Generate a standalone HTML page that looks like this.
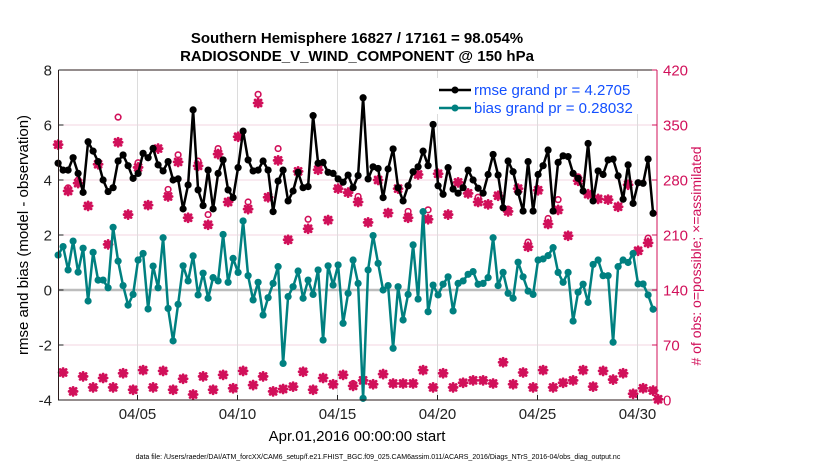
<!DOCTYPE html>
<html><head><meta charset="utf-8"><style>
body{margin:0;background:#fff;}
svg{display:block;font-family:"Liberation Sans",Arial,sans-serif;}
</style></head><body>
<svg id="chart" width="830" height="470" viewBox="0 0 830 470" xmlns="http://www.w3.org/2000/svg">
<rect width="830" height="470" fill="#fff"/>
<g id="grid"></g>
<g id="series"></g>
<g id="axes"></g>
<text x="357" y="43" text-anchor="middle" font-size="15" font-weight="bold">Southern Hemisphere 16827 / 17161 = 98.054%</text>
<text x="357" y="61" text-anchor="middle" font-size="15" font-weight="bold">RADIOSONDE_V_WIND_COMPONENT @ 150 hPa</text>
<text transform="translate(28,235) rotate(-90)" text-anchor="middle" font-size="15">rmse and bias (model - observation)</text>
<text transform="translate(701,256) rotate(-90)" text-anchor="middle" font-size="14" fill="#d1105a">&#35; of obs: o=possible; &#215;=assimilated</text>
<text x="357" y="441" text-anchor="middle" font-size="15">Apr.01,2016 00:00:00 start</text>
<text x="378" y="459" text-anchor="middle" font-size="7">data file: /Users/raeder/DAI/ATM_forcXX/CAM6_setup/f.e21.FHIST_BGC.f09_025.CAM6assim.011/ACARS_2016/Diags_NTrS_2016-04/obs_diag_output.nc</text>
<g>
<rect x="436" y="78" width="210" height="36" fill="#fff"/>
<line x1="439" y1="90" x2="471" y2="90" stroke="#000" stroke-width="2.5"/><circle cx="455" cy="90" r="3.5" fill="#000"/>
<text x="474" y="95" font-size="15" fill="#1450ff">rmse grand pr = 4.2705</text>
<line x1="439" y1="108" x2="471" y2="108" stroke="#008080" stroke-width="2.5"/><circle cx="455" cy="108" r="3.5" fill="#008080"/>
<text x="474" y="113" font-size="15" fill="#1450ff">bias grand pr = 0.28032</text>
</g>
</svg>
<script>
const rmse = [4.61,4.36,4.36,4.81,4.24,3.55,5.39,5.05,4.67,4.0,3.58,3.72,4.69,4.91,4.52,4.06,4.24,4.97,4.81,5.15,4.55,4.33,4.67,4.0,4.04,2.95,3.82,6.55,3.64,3.07,
4.36,2.95,4.24,4.73,3.64,3.36,4.45,5.78,4.73,4.33,4.36,4.69,4.36,2.85,3.96,4.36,3.24,3.6,4.28,3.72,3.76,6.34,4.61,4.64,4.28,4.24,4.04,3.92,
4.18,3.72,4.16,6.99,4.04,4.48,4.42,3.36,4.4,5.13,3.72,3.24,3.79,4.3,4.48,5.05,4.52,6.02,3.79,3.48,4.45,3.67,3.52,3.72,4.36,4.0,3.7,3.52,
4.2,4.93,4.18,2.99,4.69,4.3,3.55,2.87,4.67,2.87,4.2,4.52,5.09,2.87,4.64,4.88,4.85,4.24,4.06,3.6,5.33,3.24,4.33,4.2,4.73,4.76,
4.15,3.3,4.55,3.15,3.9,3.88,4.76,2.79];
const bias = [1.27,1.58,0.73,1.78,0.65,1.52,-0.40,1.37,0.36,0.36,0.08,2.28,1.05,0.16,-0.55,-0.16,1.09,1.33,-0.69,0.87,0.08,1.90,-0.67,-1.85,-0.52,0.88,0.33,1.24,-0.18,0.61,
-0.30,0.45,0.33,2.02,0.28,1.15,0.64,2.51,0.52,-0.36,0.28,-0.91,-0.28,0.24,0.85,-2.67,-0.24,0.12,0.69,-0.30,0.36,-0.16,0.73,-1.82,0.88,0.18,0.91,-1.21,
-0.12,1.09,0.24,-3.94,0.73,1.98,0.97,0,0.16,-2.12,0.12,-1.09,-0.16,1.64,-0.33,2.85,-0.79,0.18,-0.18,0.21,0.48,-0.76,0.24,0.33,0.57,0.67,0.21,0.24,
0.45,1.9,0.16,0.64,-0.12,-0.30,1.01,0.48,-0.04,-0.16,1.09,1.13,1.25,1.54,0.64,0.28,0.64,-1.13,-0.08,0.21,-0.45,0.93,1.09,0.52,0.52,-1.9,
0.85,1.09,1.0,1.33,0.22,0.22,-0.18,-0.7];
const obsAssim = [325,35,266,11,276,30,247,16,300,28,198,16,328,34,236,13,296,38,248,16,320,37,259,13,303,27,232,7,298,30,
223,13,313,32,252,15,335,37,243,19,378,30,258,11,305,14,204,17,291,36,218,13,293,28,229,20,269,32,
264,18,252,25,226,20,280,33,238,21,269,21,232,21,287,38,230,16,288,34,236,16,277,22,263,25,252,25,
249,21,260,48,240,20,269,35,195,16,267,38,224,16,242,22,209,25,279,38,262,17,256,37,255,26,246,34,274,8,190,15,200,12,1];
const possExtraIdx = [2,4,12,16,22,24,28,30,32,38,40,44,50,59,60,70,74,84,90,94,98,100,104,118];
const possExtraVal = [270,280,360,302,268,312,304,236,320,252,389,320,230,21,259,240,242,258,243,201,231,255,284,206];
const obsPoss = obsAssim.slice();
possExtraIdx.forEach((k,j)=>{obsPoss[k]=possExtraVal[j];});
const leftTicks = [8,6,4,2,0,-2,-4];
const rightTicks = [420,350,280,210,140,70,0];
const dateTicks = [4,9,14,19,24,29];
const dateLabels = ["04/05","04/10","04/15","04/20","04/25","04/30"];

const X0=58.5,X1=657,Y0=70,Y1=400;
const xDay = d => 57.5 + d*20;
const xIdx = i => xDay(i/4) + 0.6;
const yL = v => Y1 - (v - (-4))/12*(Y1-Y0);
const yR = c => Y1 - c/420*(Y1-Y0);
const NS="http://www.w3.org/2000/svg";
function mk(tag, attrs, parent){const e=document.createElementNS(NS,tag);for(const k in attrs)e.setAttribute(k,attrs[k]);parent.appendChild(e);return e;}
const grid=document.getElementById('grid'), ser=document.getElementById('series'), ax=document.getElementById('axes');

leftTicks.forEach(v=>{
  if(v!==8 && v!==-4 && v!==0){const g=mk('line',{x1:X0,x2:X1,y1:yL(v),y2:yL(v),stroke:'#f3d6e0','stroke-width':1},grid);
  
  }
});
dateTicks.forEach(d=>{
  const g=mk('line',{x1:xDay(d),x2:xDay(d),y1:Y0,y2:Y1,stroke:'#dcdcdc','stroke-width':1},grid);
  
  
});
const zl=mk('line',{x1:X0,x2:X1,y1:yL(0),y2:yL(0),stroke:'#bdbdbd','stroke-width':2.5},grid);



obsPoss.forEach((c,i)=>{
  const e=mk('circle',{cx:xIdx(i),cy:yR(c),r:2.8,fill:'none',stroke:'#d1105a','stroke-width':1.6},ser);
  
  
});
obsAssim.forEach((c,i)=>{
  const x=xIdx(i),y=yR(c),s=4,d=3;
  const p=mk('path',{d:`M${x-s} ${y}H${x+s}M${x} ${y-s}V${y+s}M${x-d} ${y-d}L${x+d} ${y+d}M${x-d} ${y+d}L${x+d} ${y-d}`,stroke:'#d1105a','stroke-width':2.8,'stroke-linecap':'round',fill:'none'},ser);
  
  
});
function series(arr,color,name){
  const pts=arr.map((v,i)=>`${xIdx(i).toFixed(1)},${yL(v).toFixed(1)}`).join(' ');
  const l=mk('polyline',{points:pts,fill:'none',stroke:color,'stroke-width':2.5,'stroke-linejoin':'round'},ser);
  
  
  arr.forEach((v,i)=>{
    const c=mk('circle',{cx:xIdx(i),cy:yL(v),r:3.6,fill:color},ser);
    
    
  });
}
series(bias,'#008080','bias');
series(rmse,'#000000','rmse');

const fr=mk('path',{d:`M${X0} ${Y0}H${X1}M${X0} ${Y0}V${Y1}H${X1}`,stroke:'#2a1a1a','stroke-width':1,fill:'none'},ax);


const ra=mk('line',{x1:X1,x2:X1,y1:Y0,y2:Y1,stroke:'#d1105a','stroke-width':1},ax);


leftTicks.forEach(v=>{
  mk('line',{x1:X0,x2:X0+5,y1:yL(v),y2:yL(v),stroke:'#222'},ax);
  const t=mk('text',{x:52,y:yL(v)+5.5,'text-anchor':'end','font-size':15,fill:'#222'},ax);
  t.textContent=v;
  
  
});
rightTicks.forEach(c=>{
  mk('line',{x1:X1-5,x2:X1,y1:yR(c),y2:yR(c),stroke:'#d1105a'},ax);
  const t=mk('text',{x:663,y:yR(c)+5.5,'font-size':15,fill:'#d1105a'},ax);
  t.textContent=c;
  
  
});
dateTicks.forEach((d,k)=>{
  mk('line',{x1:xDay(d),x2:xDay(d),y1:Y1,y2:Y1-5,stroke:'#222'},ax);
  const t=mk('text',{x:xDay(d),y:419,'text-anchor':'middle','font-size':15,fill:'#222'},ax);
  t.textContent=dateLabels[k];
  
  
});
</script>
</body></html>
